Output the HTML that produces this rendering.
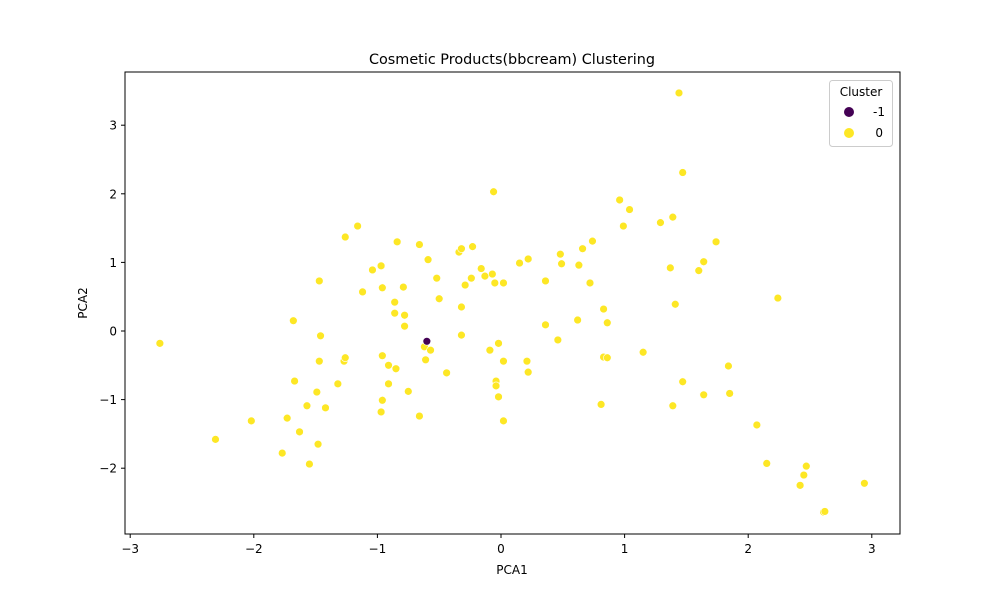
<!DOCTYPE html>
<html><head><meta charset="utf-8"><style>
body{margin:0;background:#fff;}
svg text{font-family:"DejaVu Sans","Liberation Sans",sans-serif;fill:#000;}
</style></head><body>
<svg id="chart" width="1000" height="600">
<rect x="0" y="0" width="1000" height="600" fill="#fff"/>
<text x="512" y="64" font-size="14.4" text-anchor="middle">Cosmetic Products(bbcream) Clustering</text>
<g id="marks"></g>
<g id="axes"></g>
<rect x="125" y="72" width="775" height="462" fill="none" stroke="#000" stroke-width="1"/>
<text x="512" y="574" font-size="12" text-anchor="middle">PCA1</text>
<text x="87" y="303" font-size="12" text-anchor="middle" transform="rotate(-90 87 303)">PCA2</text>
<g>
<rect x="829.5" y="80.5" width="63" height="66" rx="3" fill="#fff" stroke="#ccc"/>
<text x="861" y="96" font-size="12" text-anchor="middle">Cluster</text>
<circle cx="849" cy="112" r="5" fill="#440154"/>
<text x="885" y="116" font-size="12" text-anchor="end">-1</text>
<circle cx="849" cy="133" r="5" fill="#fde725"/>
<text x="883" y="137" font-size="12" text-anchor="end">0</text>
</g>
</svg>
<script>
const xs=[-2.76,-2.31,-2.02,-1.77,-1.73,-1.68,-1.67,-1.63,-1.57,-1.55,-1.49,-1.48,-1.47,-1.46,-1.47,-1.42,-1.32,-1.27,-1.26,-1.26,-1.16,-1.12,-1.04,-0.97,-0.96,-0.96,-0.96,-0.97,-0.91,-0.91,-0.86,-0.86,-0.85,-0.84,-0.79,-0.78,-0.78,-0.75,-0.66,-0.66,-0.62,-0.59,-0.61,-0.57,-0.52,-0.50,-0.44,-0.34,-0.32,-0.32,-0.32,-0.29,-0.24,-0.23,-0.16,-0.13,-0.09,-0.07,-0.06,-0.05,-0.04,-0.04,-0.02,-0.02,0.02,0.02,0.02,0.15,0.22,0.21,0.22,0.36,0.36,0.46,0.48,0.49,0.62,0.63,0.66,0.72,0.74,0.81,0.83,0.83,0.86,0.86,0.96,0.99,1.04,1.15,1.29,1.37,1.39,1.39,1.41,1.44,1.47,1.47,1.60,1.64,1.64,1.74,1.84,1.85,2.07,2.15,2.24,2.42,2.45,2.47,2.61,2.62,2.94,-0.60];
const ys=[-0.18,-1.58,-1.31,-1.78,-1.27,0.15,-0.73,-1.47,-1.09,-1.94,-0.89,-1.65,0.73,-0.07,-0.44,-1.12,-0.77,-0.44,-0.39,1.37,1.53,0.57,0.89,0.95,0.63,-0.36,-1.01,-1.18,-0.50,-0.77,0.42,0.26,-0.55,1.30,0.64,0.23,0.07,-0.88,1.26,-1.24,-0.23,1.04,-0.42,-0.28,0.77,0.47,-0.61,1.15,1.20,0.35,-0.06,0.67,0.77,1.23,0.91,0.80,-0.28,0.83,2.03,0.70,-0.73,-0.80,-0.18,-0.96,-0.44,0.70,-1.31,0.99,1.05,-0.44,-0.60,0.73,0.09,-0.13,1.12,0.98,0.16,0.96,1.20,0.70,1.31,-1.07,0.32,-0.38,0.12,-0.39,1.91,1.53,1.77,-0.31,1.58,0.92,1.66,-1.09,0.39,3.47,2.31,-0.74,0.88,1.01,-0.93,1.30,-0.51,-0.91,-1.37,-1.93,0.48,-2.25,-2.10,-1.97,-2.64,-2.63,-2.22,-0.15];
const clusters=[0,0,0,0,0,0,0,0,0,0,0,0,0,0,0,0,0,0,0,0,0,0,0,0,0,0,0,0,0,0,0,0,0,0,0,0,0,0,0,0,0,0,0,0,0,0,0,0,0,0,0,0,0,0,0,0,0,0,0,0,0,0,0,0,0,0,0,0,0,0,0,0,0,0,0,0,0,0,0,0,0,0,0,0,0,0,0,0,0,0,0,0,0,0,0,0,0,0,0,0,0,0,0,0,0,0,0,0,0,0,0,0,0,-1];
const xTicks=[-3,-2,-1,0,1,2,3];
const yTicks=[-2,-1,0,1,2,3];
const X=v=>501+v*123.6, Y=v=>331-v*68.6;
const NS="http://www.w3.org/2000/svg";
const marks=document.getElementById('marks'), axes=document.getElementById('axes');
for(let i=0;i<xs.length;i++){
 const c=document.createElementNS(NS,'circle');
 c.setAttribute('cx',X(xs[i]));c.setAttribute('cy',Y(ys[i]));c.setAttribute('r',3.9);
 c.setAttribute('fill',clusters[i]===-1?'#440154':'#fde725');
 c.setAttribute('stroke','#fff');c.setAttribute('stroke-width',0.6);
 
 
 marks.appendChild(c);
}
xTicks.forEach(t=>{
 const l=document.createElementNS(NS,'line');
 l.setAttribute('x1',X(t));l.setAttribute('x2',X(t));l.setAttribute('y1',534);l.setAttribute('y2',538);l.setAttribute('stroke','#000');
 
 
 axes.appendChild(l);
 const tx=document.createElementNS(NS,'text');
 tx.setAttribute('x',X(t));tx.setAttribute('y',553);tx.setAttribute('font-size',12);tx.setAttribute('text-anchor','middle');
 tx.textContent=t<0?'\u2212'+(-t):t;
 
 
 axes.appendChild(tx);
});
yTicks.forEach(t=>{
 const l=document.createElementNS(NS,'line');
 l.setAttribute('x1',121);l.setAttribute('x2',125);l.setAttribute('y1',Y(t));l.setAttribute('y2',Y(t));l.setAttribute('stroke','#000');
 
 
 axes.appendChild(l);
 const tx=document.createElementNS(NS,'text');
 tx.setAttribute('x',117);tx.setAttribute('y',Y(t)+4.5);tx.setAttribute('font-size',12);tx.setAttribute('text-anchor','end');
 tx.textContent=t<0?'\u2212'+(-t):t;
 
 
 axes.appendChild(tx);
});
</script>
</body></html>
